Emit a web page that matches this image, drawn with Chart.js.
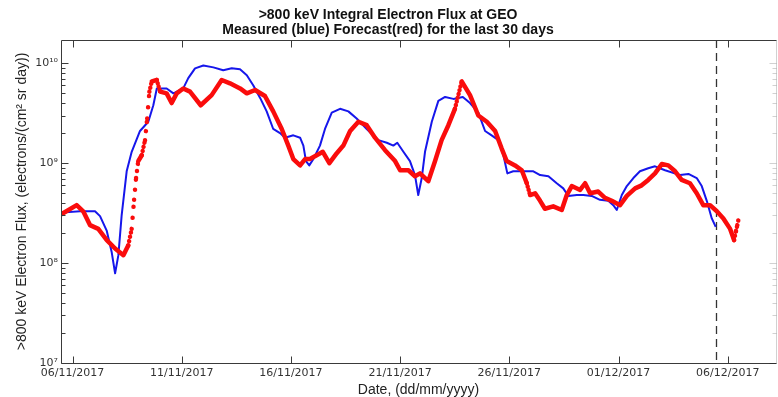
<!DOCTYPE html>
<html>
<head>
<meta charset="utf-8">
<script src="https://cdn.jsdelivr.net/npm/chart.js@4.4.1/dist/chart.umd.min.js"></script>
<style>
  html, body { margin: 0; padding: 0; background: #fff; }
  #wrap { width: 778px; height: 397px; position: relative; }
</style>
</head>
<body>
<div id="wrap"><canvas id="flux"></canvas></div>
<script>
// Time is in days since 06/11/2017 00:00 UT; flux in electrons/(cm^2 sr day).
const measuredDays = [-0.49, 0.34, 1.03, 1.26, 1.57, 1.79, 1.95, 2.10, 2.25, 2.48, 2.71, 3.09, 3.47, 3.70, 3.86,
  4.31, 4.62, 5.07, 5.30, 5.61, 5.99, 6.45, 6.90, 7.29, 7.67, 7.98, 8.28, 8.59, 8.89, 9.19, 9.50, 9.73,
  10.11, 10.42, 10.57, 10.69, 10.84, 11.03, 11.33, 11.56, 11.87, 12.25, 12.63, 13.01, 13.47, 14.00, 14.39,
  14.69, 14.87, 15.15, 15.45, 15.68, 15.83, 15.99, 16.14, 16.45, 16.75, 17.06, 17.44, 17.87, 18.20, 18.58,
  18.89, 19.19, 19.50, 19.73, 19.91, 20.18, 20.64, 21.10, 21.41, 21.79, 22.17, 22.47, 22.70, 23.09, 23.39,
  23.77, 24.15, 24.53, 24.76, 24.92, 25.15, 25.38, 25.68, 25.98, 26.36, 26.67, 27.13, 27.82, 28.20, 28.58,
  28.81, 29.04, 29.27, 29.45];
const measuredFlux = [3.2e8, 3.3e8, 3.3e8, 2.95e8, 2.1e8, 1.3e8, 7.9e7, 1.2e8, 3.0e8, 8.3e8, 1.3e9, 2.1e9, 2.6e9, 3.8e9, 5.6e9,
  5.6e9, 5.0e9, 5.6e9, 7.1e9, 8.9e9, 9.5e9, 9.1e9, 8.5e9, 8.9e9, 8.7e9, 7.6e9, 6.0e9, 4.5e9, 3.3e9, 2.2e9, 2.0e9, 1.8e9,
  1.9e9, 1.8e9, 1.5e9, 1.05e9, 9.5e8, 1.1e9, 1.5e9, 2.2e9, 3.2e9, 3.5e9, 3.3e9, 2.8e9, 2.2e9, 1.7e9, 1.6e9,
  1.5e9, 1.6e9, 1.3e9, 1.05e9, 7.6e8, 4.8e8, 7.1e8, 1.3e9, 2.6e9, 4.2e9, 4.6e9, 4.4e9, 4.6e9, 4.0e9, 3.2e9,
  2.1e9, 1.9e9, 1.7e9, 1.2e9, 7.9e8, 8.3e8, 8.3e8, 8.3e8, 7.6e8, 7.4e8, 6.3e8, 5.6e8, 4.7e8, 4.8e8, 4.8e8,
  4.7e8, 4.3e8, 4.2e8, 3.8e8, 3.4e8, 4.8e8, 5.9e8, 7.1e8, 8.3e8, 8.9e8, 9.3e8, 8.5e8, 7.6e8, 7.8e8, 7.1e8,
  5.9e8, 4.2e8, 2.8e8, 2.3e8];

const forecastDays = [-0.49, 0.19, 0.49, 0.80, 1.18, 1.57, 1.95, 2.33, 2.55, 2.71, 2.82, 2.91, 3.01, 3.17, 3.32,
  3.42, 3.52, 3.63, 3.86, 4.01, 4.31, 4.54, 4.77, 5.07, 5.38, 5.87, 6.37, 6.83, 7.21, 7.67, 7.98, 8.36, 8.81,
  9.19, 9.58, 9.88, 10.11, 10.42, 10.65, 10.87, 11.18, 11.46, 11.76, 12.10, 12.40, 12.71, 13.09, 13.47, 13.85,
  14.31, 14.77, 15.00, 15.38, 15.68, 15.91, 16.29, 16.60, 16.90, 17.21, 17.51, 17.82, 18.20, 18.58, 18.97,
  19.35, 19.65, 19.88, 20.26, 20.57, 20.80, 20.95, 21.18, 21.41, 21.63, 22.01, 22.40, 22.63, 22.86, 23.24,
  23.47, 23.70, 24.07, 24.38, 24.69, 25.07, 25.38, 25.76, 26.06, 26.36, 26.67, 26.98, 27.28, 27.59, 27.89,
  28.27, 28.58, 28.88, 29.19, 29.50, 29.80, 30.11, 30.29, 30.38, 30.44, 30.50];
const forecastFlux = [3.1e8, 3.8e8, 3.3e8, 2.4e8, 2.2e8, 1.7e8, 1.4e8, 1.2e8, 1.5e8, 2.2e8, 4.3e8, 7.1e8, 1.05e9, 1.2e9, 1.7e9,
  2.8e9, 5.2e9, 6.6e9, 6.8e9, 5.2e9, 5.0e9, 4.0e9, 5.0e9, 5.6e9, 5.2e9, 3.8e9, 4.8e9, 6.8e9, 6.3e9, 5.6e9, 5.0e9, 5.4e9, 4.7e9,
  3.3e9, 2.2e9, 1.5e9, 1.1e9, 9.5e8, 1.1e9, 1.1e9, 1.2e9, 1.3e9, 1.0e9, 1.26e9, 1.5e9, 2.1e9, 2.6e9, 2.4e9, 1.8e9,
  1.35e9, 1.05e9, 8.5e8, 8.5e8, 7.4e8, 7.9e8, 6.6e8, 1.05e9, 1.7e9, 2.4e9, 3.5e9, 6.6e9, 4.8e9, 3.0e9, 2.6e9,
  2.1e9, 1.4e9, 1.05e9, 9.5e8, 8.5e8, 6.3e8, 4.8e8, 5.0e8, 4.2e8, 3.5e8, 3.7e8, 3.4e8, 4.8e8, 5.9e8, 5.4e8,
  6.3e8, 5.0e8, 5.2e8, 4.5e8, 4.2e8, 3.8e8, 4.7e8, 5.6e8, 6.0e8, 6.8e8, 7.9e8, 9.8e8, 9.5e8, 8.3e8, 6.8e8,
  6.3e8, 5.0e8, 3.8e8, 3.8e8, 3.3e8, 2.8e8, 2.2e8, 1.7e8, 2.1e8, 2.4e8, 2.8e8];

// Time of the latest measurement (start of the forecast window)
const nowDay = 29.47;

// Date axis ticks
const dateTickDays = [0, 5, 10, 15, 20, 25, 30];
const dateTickLabels = ['06/11/2017', '11/11/2017', '16/11/2017', '21/11/2017', '26/11/2017', '01/12/2017', '06/12/2017'];

// Flux axis: decades 10^7 .. 10^10
const fluxDecades = [7, 8, 9, 10];

const FONT = "'Liberation Sans', Arial, Helvetica, sans-serif";
const TICK_FONT = "'DejaVu Sans', Verdana, sans-serif";
const X_MIN = -0.527, X_MAX = 32.21;
const Y_MIN = 1e7, Y_MAX = 1.71e10;

const SUP = { '0': '\u2070', '1': '\u00b9', '2': '\u00b2', '3': '\u00b3', '4': '\u2074',
  '5': '\u2075', '6': '\u2076', '7': '\u2077', '8': '\u2078', '9': '\u2079' };
function powerLabel(v) {
  const e = Math.log10(v);
  const r = Math.round(e);
  if (Math.abs(e - r) > 1e-6) return '';
  return '10' + String(r).split('').map(c => SUP[c]).join('');
}

const toPoints = (xs, ys) => xs.map((x, i) => ({ x, y: ys[i] }));

// Box, inward tick marks (MATLAB style) on all four sides
const frameTicks = {
  id: 'frameTicks',
  afterDraw(chart) {
    const { ctx, chartArea: a, scales: { x, y } } = chart;
    const L = Math.round(a.left) + 0.5, R = Math.round(a.right) + 0.5;
    const T = Math.round(a.top) + 0.5, B = Math.round(a.bottom) + 0.5;
    ctx.save();
    ctx.lineWidth = 1;
    ctx.strokeStyle = '#3a3a3a';
    ctx.beginPath();
    ctx.moveTo(R, T); ctx.lineTo(L, T); ctx.lineTo(L, B); ctx.lineTo(R, B);
    ctx.stroke();
    // date ticks, bottom and top
    ctx.beginPath();
    x.ticks.forEach(t => {
      const px = Math.round(x.getPixelForValue(t.value)) + 0.5;
      ctx.moveTo(px, B); ctx.lineTo(px, B - 7);
      ctx.moveTo(px, T); ctx.lineTo(px, T + 7);
    });
    // flux ticks on the left
    y.ticks.forEach(t => {
      const py = Math.round(y.getPixelForValue(t.value)) + 0.5;
      const len = powerLabel(t.value) ? 7 : 4;
      ctx.moveTo(L, py); ctx.lineTo(L + len, py);
    });
    ctx.stroke();
    // right-hand side of the box (faint)
    ctx.strokeStyle = 'rgba(0,0,0,0.18)';
    ctx.beginPath();
    ctx.moveTo(R, T); ctx.lineTo(R, B);
    y.ticks.forEach(t => {
      const py = Math.round(y.getPixelForValue(t.value)) + 0.5;
      const len = powerLabel(t.value) ? 7 : 4;
      ctx.moveTo(R, py); ctx.lineTo(R - len, py);
    });
    ctx.stroke();
    ctx.restore();
  }
};

// Dashed vertical line marking the present time
const nowLine = {
  id: 'nowLine',
  beforeDatasetsDraw(chart) {
    const { ctx, chartArea: a, scales: { x } } = chart;
    const px = Math.round(x.getPixelForValue(nowDay)) + 0.5;
    ctx.save();
    ctx.strokeStyle = '#333';
    ctx.lineWidth = 1.3;
    ctx.setLineDash([8, 5]);
    ctx.beginPath();
    ctx.moveTo(px, a.top);
    ctx.lineTo(px, a.bottom);
    ctx.stroke();
    ctx.restore();
  }
};

// Forecast is sampled hourly: where consecutive samples are far apart on screen,
// draw them as separate dots instead of a continuous stroke.
function forecastDash(ctx) {
  const i = ctx.p0DataIndex;
  const hours = (forecastDays[i + 1] - forecastDays[i]) * 24;
  const len = Math.hypot(ctx.p1.x - ctx.p0.x, ctx.p1.y - ctx.p0.y);
  const step = len / hours;
  return step > 3.2 ? [0.01, step] : undefined;
}

new Chart(document.getElementById('flux'), {
  type: 'line',
  data: {
    datasets: [
      {
        label: 'Forecast',
        data: toPoints(forecastDays, forecastFlux),
        borderColor: 'rgb(250,12,12)',
        borderWidth: 4.5,
        borderCapStyle: 'round',
        borderJoinStyle: 'round',
        pointRadius: 0,
        tension: 0,
        order: 0,
        segment: { borderDash: forecastDash }
      },
      {
        label: 'Measured',
        data: toPoints(measuredDays, measuredFlux),
        borderColor: 'rgb(22,22,235)',
        borderWidth: 2,
        borderJoinStyle: 'round',
        pointRadius: 0,
        tension: 0,
        order: 1
      }
    ]
  },
  options: {
    responsive: true,
    maintainAspectRatio: false,
    devicePixelRatio: 1,
    animation: false,
    events: [],
    layout: { padding: { left: 0, right: 2, top: 0, bottom: 0 } },
    plugins: {
      legend: { display: false },
      tooltip: { enabled: false },
      title: {
        display: true,
        text: ['>800 keV Integral Electron Flux at GEO', 'Measured (blue) Forecast(red) for the last 30 days'],
        color: '#111',
        font: { family: FONT, size: 14, weight: 'bold', lineHeight: 1.05 },
        padding: { top: 7.6, bottom: 3 }
      }
    },
    scales: {
      x: {
        type: 'linear',
        min: X_MIN,
        max: X_MAX,
        bounds: 'data',
        grid: { display: false, drawTicks: false },
        border: { display: false },
        afterBuildTicks: s => { s.ticks = dateTickDays.map(v => ({ value: v })); },
        afterFit: s => { s.height = 34; },
        ticks: {
          autoSkip: false,
          maxRotation: 0,
          padding: 4,
          color: '#333',
          font: { family: TICK_FONT, size: 11 },
          callback: v => dateTickLabels[dateTickDays.indexOf(v)]
        },
        title: {
          display: true,
          text: 'Date, (dd/mm/yyyy)',
          color: '#222',
          font: { family: FONT, size: 14, lineHeight: 1 },
          padding: { top: 0, bottom: 0 }
        }
      },
      y: {
        type: 'logarithmic',
        min: Y_MIN,
        max: Y_MAX,
        bounds: 'data',
        grid: { display: false, drawTicks: false },
        border: { display: false },
        afterBuildTicks: s => {
          const ticks = [];
          fluxDecades.forEach(d => {
            for (let k = 1; k <= 9; k++) {
              const v = k * Math.pow(10, d);
              if (v <= Y_MAX * 1.0001) ticks.push({ value: v });
            }
          });
          s.ticks = ticks;
        },
        afterFit: s => { s.width = 61; },
        ticks: {
          autoSkip: false,
          padding: 3,
          color: '#333',
          font: { family: TICK_FONT, size: 11 },
          callback: v => powerLabel(v)
        },
        title: {
          display: true,
          text: '>800 keV Electron Flux, (electrons/(cm\u00b2 sr day))',
          color: '#222',
          font: { family: FONT, size: 14, lineHeight: 1 },
          padding: { top: 15, bottom: 15 }
        }
      }
    }
  },
  plugins: [nowLine, frameTicks]
});
</script>
</body>
</html>
